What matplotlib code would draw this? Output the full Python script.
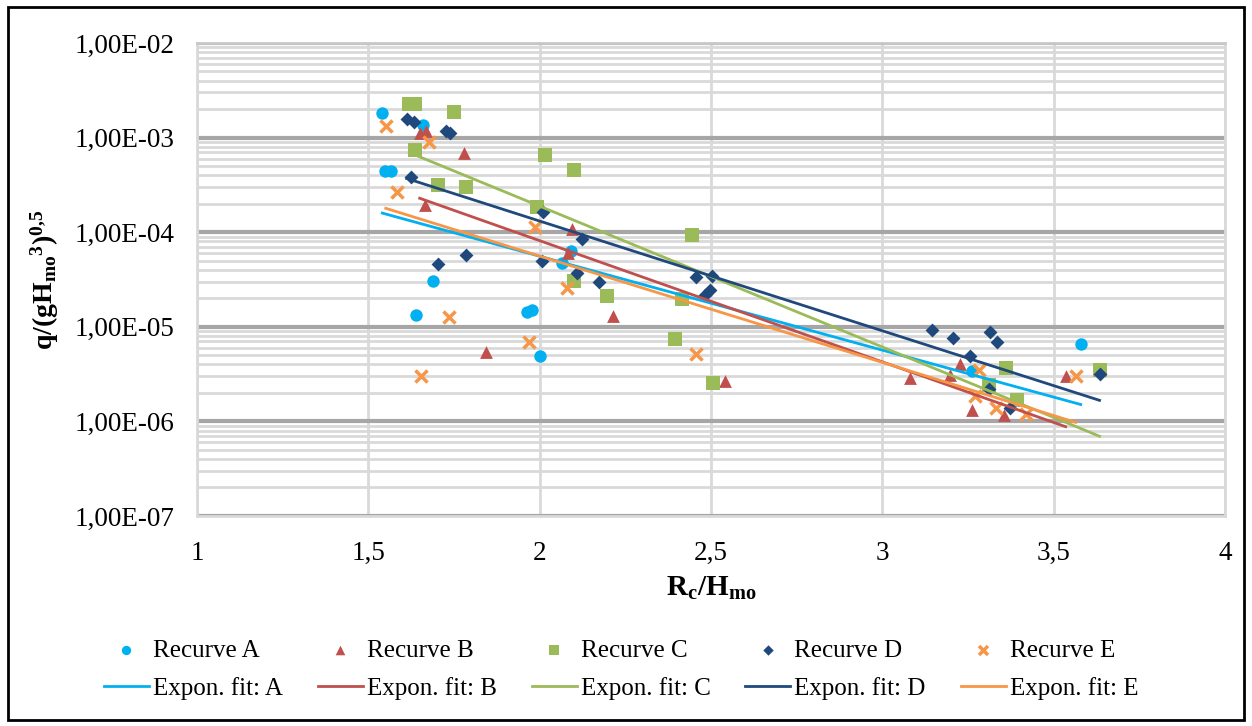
import matplotlib
matplotlib.use("Agg")
import matplotlib.pyplot as plt
import numpy as np
from matplotlib.patches import Rectangle
from matplotlib.ticker import FixedLocator, FuncFormatter, LogLocator

# Rc/Hmo and q/(gHmo^3)^0.5 per recurve type
a_x = [1.541, 1.550, 1.565, 1.661, 1.688, 1.639, 1.963, 1.977, 2.002, 2.065, 2.091, 3.262, 3.579]
a_y = [1.81e-3, 4.4e-4, 4.4e-4, 1.36e-3, 3.05e-5, 1.33e-5, 1.45e-5, 1.51e-5, 4.9e-6, 4.7e-5, 6.3e-5, 3.4e-6, 6.6e-6]

b_x = [1.650, 1.668, 1.666, 1.778, 1.843, 2.082, 2.094, 2.213, 2.542, 3.082, 3.199, 3.228, 3.262, 3.355, 3.535]
b_y = [1.13e-3, 1.18e-3, 1.94e-4, 6.8e-4, 5.37e-6, 5.98e-5, 1.07e-4, 1.30e-5, 2.69e-6, 2.9e-6, 3.09e-6, 4.0e-6,
       1.32e-6, 1.17e-6, 3.02e-6]

c_x = [1.620, 1.636, 1.637, 1.703, 1.751, 1.786, 1.992, 2.016, 2.101, 2.101, 2.198, 2.396, 2.416, 2.445, 2.506,
       3.311, 3.360, 3.394, 3.634]
c_y = [2.26e-3, 2.26e-3, 7.4e-4, 3.15e-4, 1.88e-3, 3.03e-4, 1.83e-4, 6.55e-4, 4.55e-4, 3.07e-5, 2.13e-5, 7.4e-6,
       1.95e-5, 9.3e-5, 2.56e-6, 2.43e-6, 3.64e-6, 1.68e-6, 3.5e-6]

d_x = [1.612, 1.632, 1.728, 1.738, 1.624, 1.703, 1.786, 2.007, 2.010, 2.109, 2.124, 2.172, 2.457, 2.483, 2.498,
       2.503, 3.146, 3.207, 3.256, 3.311, 3.313, 3.334, 3.374, 3.634]
d_y = [1.56e-3, 1.47e-3, 1.18e-3, 1.12e-3, 3.8e-4, 4.6e-5, 5.8e-5, 4.9e-5, 1.65e-4, 3.73e-5, 8.4e-5, 3.0e-5,
       3.39e-5, 2.15e-5, 2.45e-5, 3.44e-5, 9.25e-6, 7.67e-6, 4.91e-6, 2.2e-6, 8.87e-6, 6.96e-6, 1.38e-6, 3.17e-6]

e_x = [1.551, 1.583, 1.654, 1.678, 1.737, 1.968, 1.987, 2.080, 2.457, 3.270, 3.282, 3.331, 3.420, 3.564]
e_y = [1.33e-3, 2.68e-4, 3.02e-6, 9.06e-4, 1.26e-5, 6.95e-6, 1.14e-4, 2.55e-5, 5.15e-6, 1.85e-6, 3.49e-6,
       1.4e-6, 1.2e-6, 3.0e-6]

names = ["A", "B", "C", "D", "E"]
# exponential trendlines y = a * exp(b * x)
fit_a = [5.39e-3, 2.97e-2, 0.179, 2.74e-2, 9.9e-3]
fit_b = [-2.286, -2.950, -3.428, -2.671, -2.588]

xticks = [1, 1.5, 2, 2.5, 3, 3.5, 4]

series = [(a_x, a_y), (b_x, b_y), (c_x, c_y), (d_x, d_y), (e_x, e_y)]
colors = ["#00B0F0", "#C0504D", "#9BBB59", "#1F497D", "#F79646"]
markers = ["o", "^", "s", "D", "x"]
sizes = [80, 85, 105, 50, 75]

plt.rcParams["font.family"] = ["Liberation Serif", "DejaVu Serif"]
plt.rcParams["mathtext.fontset"] = "custom"
plt.rcParams["mathtext.rm"] = "Liberation Serif"
plt.rcParams["mathtext.it"] = "Liberation Serif:italic"
plt.rcParams["mathtext.bf"] = "Liberation Serif:bold"

fig = plt.figure(figsize=(12.52, 7.26), dpi=100)
ax = fig.add_axes([0.1573, 0.2893, 0.8211, 0.6515])

handles = []
for i, (xs, ys) in enumerate(series):
    lw = 2.5 if markers[i] == "x" else 0
    h = ax.scatter(xs, ys, s=sizes[i], marker=markers[i], color=colors[i],
                   linewidths=lw, zorder=3, label="Recurve " + names[i])
    handles.append(h)

for i, (xs, ys) in enumerate(series):
    xx = np.linspace(min(xs), max(xs), 200)
    ln, = ax.plot(xx, fit_a[i] * np.exp(fit_b[i] * xx), color=colors[i], lw=2,
                  zorder=4, label="Expon. fit: " + names[i])
    handles.insert(2 * i + 1, ln)

ax.set_yscale("log")
ax.set_ylim(1e-7, 1e-2)
ax.set_xlim(1, 4)
ax.xaxis.set_major_locator(FixedLocator(xticks))
ax.xaxis.set_major_formatter(FuncFormatter(lambda v, p: f"{v:g}".replace(".", ",")))
ax.yaxis.set_major_locator(LogLocator(base=10, numticks=10))
ax.yaxis.set_minor_locator(LogLocator(base=10, subs=np.arange(2, 10), numticks=20))
ax.yaxis.set_major_formatter(FuncFormatter(lambda v, p: f"{v:.2E}".replace(".", ",")))
ax.yaxis.set_minor_formatter(FuncFormatter(lambda v, p: ""))

ax.set_axisbelow(True)
ax.grid(True, which="major", axis="y", color="#A6A6A6", lw=3)
ax.grid(True, which="minor", axis="y", color="#D9D9D9", lw=2)
ax.grid(True, which="major", axis="x", color="#D9D9D9", lw=2)
for side in ["left", "right", "bottom"]:
    ax.spines[side].set_color("#D9D9D9")
    ax.spines[side].set_linewidth(2)
ax.spines["top"].set_color("#C8C8C8")
ax.spines["top"].set_linewidth(2)
ax.tick_params(which="both", length=0, labelsize=19.5, colors="black")
ax.tick_params(axis="y", pad=16)
ax.tick_params(axis="x", pad=18)

ax.set_ylabel(r"$\mathbf{q/(gH_{mo}{}^{3})^{0{,}5}}$", fontsize=20, labelpad=10)
ax.set_xlabel(r"$\mathbf{R_{c}/H_{mo}}$", fontsize=21, labelpad=6)

fig.legend(handles=handles, ncol=5, loc="center", bbox_to_anchor=(0.496, 0.078),
           frameon=False, fontsize=18, handlelength=1.8, handletextpad=0.16,
           columnspacing=1.4, labelspacing=0.6, markerscale=0.75)

fig.patches.append(Rectangle((0.0064, 0.008), 0.987, 0.982, transform=fig.transFigure,
                             fill=False, lw=2, ec="black"))

fig.savefig("out.png", dpi=100)
